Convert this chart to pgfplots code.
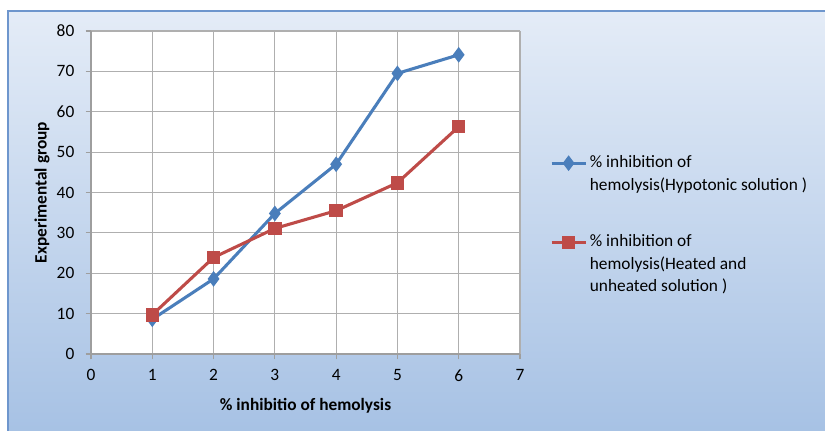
\documentclass[border=0pt]{standalone}
\usepackage{fontspec}
\setmainfont{Carlito}
\usepackage{pgfplots}
\pgfplotsset{compat=1.18}
\definecolor{bluS}{RGB}{74,126,187}
\definecolor{redS}{RGB}{190,75,72}
\definecolor{bgTop}{RGB}{228,236,247}
\definecolor{bgBot}{RGB}{166,193,228}
\definecolor{frameC}{RGB}{110,150,205}
\definecolor{gridC}{RGB}{175,175,175}
\begin{document}
\begin{tikzpicture}[x=0.75pt,y=0.75pt,font=\fontsize{13pt}{17pt}\selectfont]
\useasboundingbox (0,0) rectangle (825,431);
\fill[white] (0,0) rectangle (825,431);
\shade[top color=bgTop,bottom color=bgBot] (8,-5) rectangle (830,420);
\draw[frameC,line width=0.8pt] (8,-5) -- (8,420) -- (830,420);
\begin{axis}[
  at={(68.25pt,57.75pt)}, anchor=south west,
  scale only axis, width=321.75pt, height=242.25pt,
  xmin=0, xmax=7, ymin=0, ymax=80,
  xtick={0,...,7}, ytick={0,10,...,80},
  axis background/.style={fill=white},
  grid=major, major grid style={gridC, line width=0.8pt},
  axis line style={gridC!90!black, line width=0.8pt},
  tick style={gridC!90!black, line width=0.8pt},
  tick align=outside, major tick length=4pt,
  axis x line*=bottom, axis y line*=left,
  /pgf/number format/assume math mode=true,
  ticklabel style={font=\fontsize{13pt}{17pt}\selectfont},
  xticklabel style={yshift=-4pt},
  yticklabel style={xshift=-5pt},
  xlabel={\bfseries \% inhibitio of hemolysis},
  ylabel={\bfseries Experimental group},
  xlabel style={at={(axis description cs:0.5,-0.16)}, anchor=center},
  ylabel style={at={(axis description cs:-0.114,0.5)}, anchor=center, rotate=0},
  legend style={at={(axis description cs:1.06,0.644)}, anchor=north west,
    draw=none, fill=none, font=\fontsize{13pt}{17pt}\selectfont,
    cells={anchor=base west}, row sep=42pt},
  legend image code/.code={\draw[mark repeat=2,mark phase=2,#1] plot coordinates {(0cm,3.2pt) (0.45cm,3.2pt) (0.9cm,3.2pt)};},
]
\addplot[bluS, line width=2.3pt, mark=diamond*, mark size=4pt, mark options={solid}]
  coordinates {(1,8.6) (2,18.6) (3,34.8) (4,47.0) (5,69.5) (6,74.1)};
\addlegendentry{\begin{tabular}[t]{@{}l@{}}\% inhibition of\\hemolysis(Hypotonic solution )\end{tabular}}
\addplot[redS, line width=2.3pt, mark=square*, mark size=3.9pt, mark options={solid}]
  coordinates {(1,9.7) (2,23.9) (3,31.1) (4,35.5) (5,42.4) (6,56.3)};
\addlegendentry{\begin{tabular}[t]{@{}l@{}}\% inhibition of\\hemolysis(Heated and\\unheated solution )\end{tabular}}
\end{axis}
\end{tikzpicture}
\end{document}
